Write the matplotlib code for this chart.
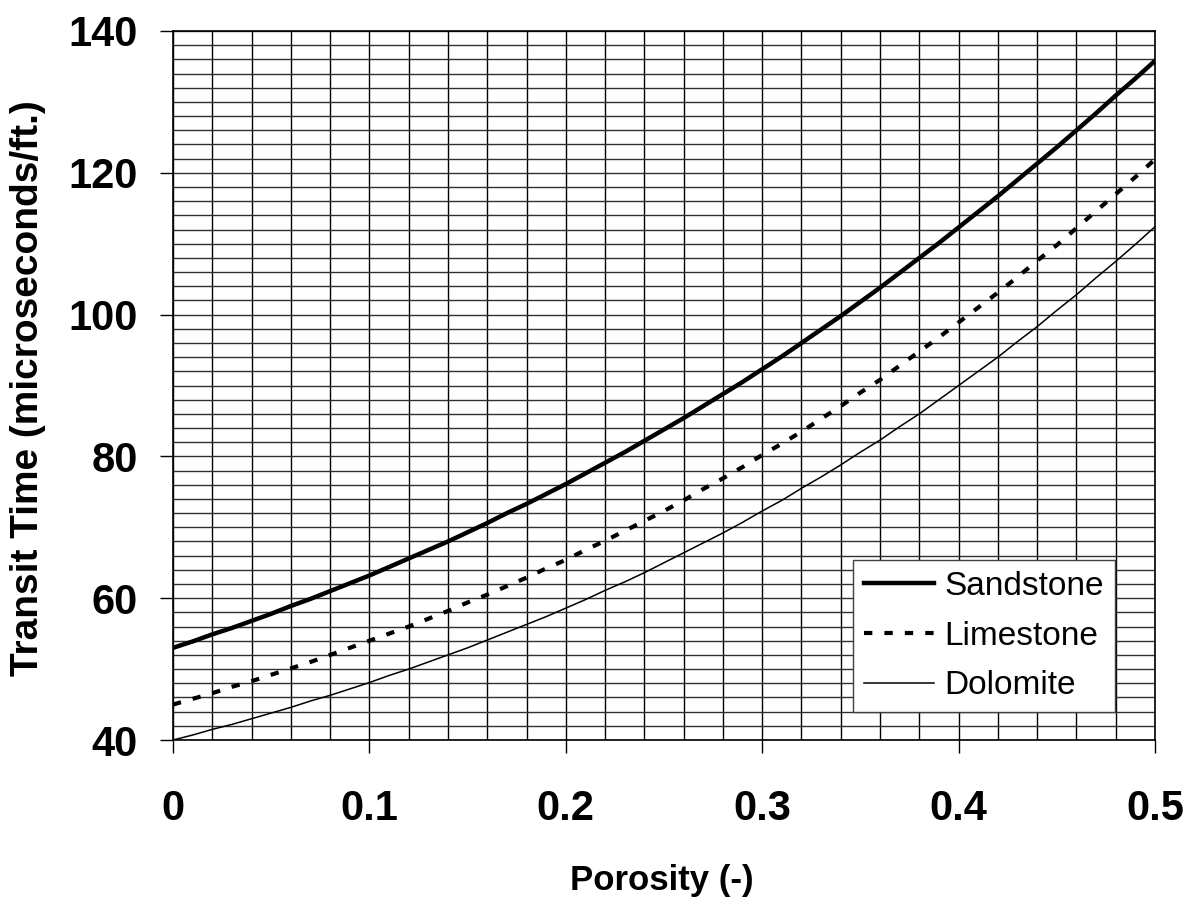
import matplotlib
matplotlib.use("Agg")
import matplotlib.pyplot as plt
from matplotlib.ticker import MultipleLocator

porosity = [i / 100 for i in range(51)]

sandstone = [53.0, 53.9, 54.9, 55.8, 56.8, 57.8, 58.9, 59.9, 61.0, 62.1,
             63.2, 64.4, 65.6, 66.8, 68.0, 69.3, 70.6, 72.0, 73.3, 74.7,
             76.1, 77.6, 79.1, 80.6, 82.2, 83.8, 85.4, 87.1, 88.8, 90.5,
             92.3, 94.1, 96.0, 97.9, 99.8, 101.8, 103.8, 105.9, 108.0, 110.1,
             112.3, 114.5, 116.7, 119.0, 121.3, 123.6, 126.0, 128.4, 130.9, 133.3,
             135.8]
limestone = [45.0, 45.8, 46.6, 47.5, 48.3, 49.2, 50.1, 51.0, 52.0, 53.0,
             54.0, 55.0, 56.0, 57.1, 58.2, 59.4, 60.5, 61.7, 62.9, 64.2,
             65.4, 66.8, 68.1, 69.5, 70.9, 72.3, 73.8, 75.4, 76.9, 78.5,
             80.2, 81.8, 83.5, 85.3, 87.1, 89.0, 90.8, 92.8, 94.8, 96.8,
             98.9, 101.0, 103.1, 105.3, 107.6, 109.8, 112.2, 114.6, 117.0, 119.4,
             121.9]
dolomite = [40.0, 40.7, 41.5, 42.2, 43.0, 43.8, 44.6, 45.5, 46.3, 47.2,
            48.1, 49.1, 50.0, 51.0, 52.0, 53.0, 54.1, 55.2, 56.3, 57.4,
            58.6, 59.8, 61.1, 62.3, 63.6, 65.0, 66.4, 67.8, 69.2, 70.7,
            72.3, 73.8, 75.5, 77.1, 78.8, 80.6, 82.3, 84.2, 86.0, 88.0,
            90.0, 92.0, 94.0, 96.2, 98.3, 100.6, 102.8, 105.2, 107.5, 109.9,
            112.4]

x_ticks = [0, 0.1, 0.2, 0.3, 0.4, 0.5]
x_tick_labels = ["0", "0.1", "0.2", "0.3", "0.4", "0.5"]
y_ticks = [40, 60, 80, 100, 120, 140]
series_names = ["Sandstone", "Limestone", "Dolomite"]

plt.rcParams['font.family'] = ['Liberation Sans', 'DejaVu Sans']

W, H = 1194, 897
fig = plt.figure(figsize=(W / 100, H / 100), dpi=100)
L, R, B, T = 173, 1155, 740, 31
ax = fig.add_axes([L / W, 1 - B / H, (R - L) / W, (B - T) / H])

ax.set_xlim(0, 0.5)
ax.set_ylim(40, 140)

# grid
ax.xaxis.set_minor_locator(MultipleLocator(0.02))
ax.yaxis.set_minor_locator(MultipleLocator(2))
ax.grid(which='both', axis='x', color='black', linewidth=1.0)
ax.grid(which='both', axis='y', color='#303030', linewidth=1.0)
ax.set_axisbelow(True)

ax.plot(porosity, sandstone, color='black', linewidth=3.2, label=series_names[0])
ax.plot(porosity, limestone, color='black', linewidth=3.0,
        linestyle=(0, (2.0, 2.9)), label=series_names[1])
ax.plot(porosity, dolomite, color='black', linewidth=1.1, label=series_names[2])

ax.set_xticks(x_ticks)
ax.set_xticklabels(x_tick_labels)
ax.set_yticks(y_ticks)
for lab in ax.get_xticklabels() + ax.get_yticklabels():
    lab.set_fontweight('bold')
    lab.set_fontsize(30)
ax.tick_params(which='major', axis='x', direction='out', length=9.5, width=1.0, pad=26)
ax.tick_params(which='major', axis='y', direction='out', length=9.5, width=1.0, pad=16)
ax.tick_params(which='minor', length=0)

for s in ax.spines.values():
    s.set_color('black')
    s.set_linewidth(1.2)
    s.set_zorder(3)

fig.text(662 / W, 1 - 890 / H, "Porosity (-)", fontsize=25, fontweight='bold',
         ha='center', va='baseline')
fig.text(38 / W, 1 - 388 / H, "Transit Time (microseconds/ft.)", fontsize=28,
         fontweight='bold', ha='center', va='baseline', rotation=90,
         rotation_mode='anchor')

leg = ax.legend(loc='upper left', bbox_to_anchor=(853 / W, 1 - 560 / H),
                bbox_transform=fig.transFigure, borderaxespad=0,
                fontsize=24, frameon=True, fancybox=False, framealpha=1,
                edgecolor='#404040', handlelength=2.1, handletextpad=0.3,
                borderpad=0.33, labelspacing=0.56)
leg.get_frame().set_linewidth(1.0)
leg.set_zorder(5)

fig.savefig("out.png", dpi=100)
